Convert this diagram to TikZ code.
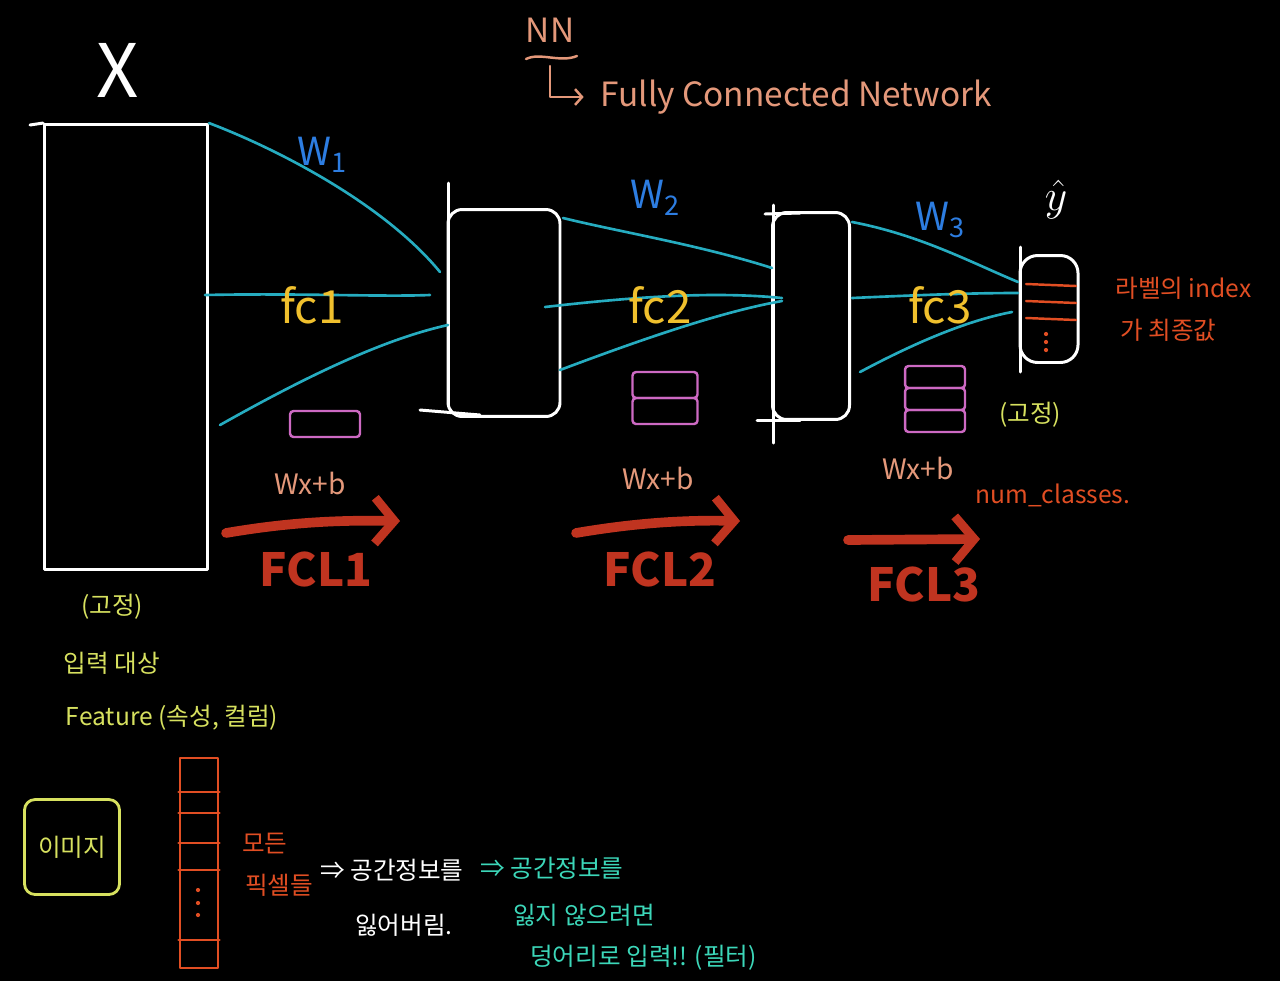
\documentclass[tikz,border=0pt]{standalone}
\usepackage{fontspec}
\newfontfamily\kr{Noto Sans CJK KR}
\usetikzlibrary{arrows.meta}

\definecolor{wirec}{RGB}{38,172,192}
\definecolor{wc}{RGB}{45,125,225}
\definecolor{fcc}{RGB}{240,192,45}
\definecolor{biasc}{RGB}{205,105,195}
\definecolor{peach}{RGB}{228,152,122}
\definecolor{flowc}{RGB}{192,52,32}
\definecolor{notec}{RGB}{225,78,35}
\definecolor{limec}{RGB}{215,225,95}
\definecolor{aquac}{RGB}{60,215,185}

\tikzset{
  layer/.style={draw=white, line width=1.7pt},
  wire/.style={draw=wirec, line width=1.5pt},
  bias/.style={draw=biasc, line width=1.4pt, inner sep=0pt, rounded corners=2pt},
  flow/.style={draw=flowc, line width=5.5pt,
    -{Straight Barb[length=11pt, width=26pt, line width=5pt]}},
  wlab/.style={text=wc, font=\kr\fontsize{22}{24}\selectfont},
  fclab/.style={text=fcc, font=\kr\fontsize{26}{28}\selectfont},
  eqlab/.style={text=peach, font=\kr\fontsize{16}{18}\selectfont},
  fcl/.style={text=flowc, font=\kr\bfseries\fontsize{26}{28}\selectfont},
  note/.style={inner sep=0pt, font=\kr\fontsize{14}{17}\selectfont}
}

\begin{document}
\begin{tikzpicture}[x=0.02cm, y=-0.02cm, line cap=round, line join=round]
  \fill[black] (0,0) rectangle (1280,981);

  % layers
  \node[layer, minimum width=3.26cm, minimum height=8.9cm] (in) at (126,347) {};
  \draw[layer] (30,125) -- (in.north west);
  \node[layer, rounded corners=8pt, minimum width=2.24cm, minimum height=4.14cm] (h1) at (504,313) {};
  \draw[layer] (448,183) -- (448,405);
  \draw[layer] (420,410) -- (480,415);
  \node[layer, rounded corners=8pt, minimum width=1.54cm, minimum height=4.14cm] (h2) at (811,316) {};
  \draw[layer] (773,205) -- (773,443);
  \draw[layer] (757,420) -- (800,420);
  \draw[layer] (765,214) -- (800,213);
  \node[layer, rounded corners=10pt, minimum width=1.16cm, minimum height=2.14cm] (out) at (1049,309) {};
  \draw[layer] (1020,247) -- (1020,372);
  \foreach \y in {284, 301, 318}
    \draw[draw=notec, line width=1.4pt] (1026,\y) -- (1076,\y+2);
  \foreach \y in {334, 342, 350}
    \fill[notec] (1046,\y) circle (1.2pt);

  % weights
  \coordinate (a1) at (440,272);
  \coordinate (a2) at (205,295);
  \coordinate (a3) at (430,295);
  \coordinate (a4) at (220,425);
  \coordinate (a5) at (448,325);
  \draw[wire] (in.north east) .. controls (280,150) and (385,205) .. (a1);
  \draw[wire] (a2) .. controls (300,293) and (380,297) .. (a3);
  \draw[wire] (a4) .. controls (300,380) and (380,340) .. (a5);
  \coordinate (b1) at (563,218);
  \coordinate (b2) at (772,268);
  \coordinate (b3) at (545,307);
  \coordinate (b4) at (782,298);
  \coordinate (b5) at (560,370);
  \coordinate (b6) at (782,301);
  \draw[wire] (b1) .. controls (620,232) and (700,245) .. (b2);
  \draw[wire] (b3) .. controls (650,295) and (720,292) .. (b4);
  \draw[wire] (b5) .. controls (640,340) and (720,312) .. (b6);
  \coordinate (c1) at (852,222);
  \coordinate (c2) at (1018,282);
  \coordinate (c3) at (852,298);
  \coordinate (c4) at (1018,293);
  \coordinate (c5) at (860,372);
  \coordinate (c6) at (1012,312);
  \draw[wire] (c1) .. controls (920,235) and (970,262) .. (c2);
  \draw[wire] (c3) .. controls (920,295) and (970,293) .. (c4);
  \draw[wire] (c5) .. controls (920,340) and (970,320) .. (c6);

  \node[wlab] (w1) at (322,155) {W\textsubscript{1}};
  \node[wlab] (w2) at (655,198) {W\textsubscript{2}};
  \node[wlab] (w3) at (940,220) {W\textsubscript{3}};
  \node[fclab] (fc1) at (312,305) {fc1};
  \node[fclab] (fc2) at (660,305) {fc2};
  \node[fclab] (fc3) at (940,305) {fc3};

  % biases
  \node[bias, minimum width=1.4cm, minimum height=0.52cm] (bias1) at (325,424) {};
  \foreach \y [count=\i] in {385, 411}
    \node[bias, minimum width=1.3cm, minimum height=0.52cm] (bias2\i) at (665,\y) {};
  \foreach \y [count=\i] in {377, 399, 421}
    \node[bias, minimum width=1.2cm, minimum height=0.44cm] (bias3\i) at (935,\y) {};

  \node[eqlab] (eq1) at (310,483) {Wx+b};
  \node[eqlab] (eq2) at (658,478) {Wx+b};
  \node[eqlab] (eq3) at (918,468) {Wx+b};

  % flow arrows
  \coordinate (f1) at (226,533);
  \coordinate (f2) at (400,521);
  \coordinate (f3) at (576,533);
  \coordinate (f4) at (740,521);
  \coordinate (f5) at (848,540);
  \coordinate (f6) at (980,539);
  \draw[flow] (f1) .. controls (290,522) and (340,520) .. (f2);
  \draw[flow] (f3) .. controls (640,522) and (690,520) .. (f4);
  \draw[flow] (f5) -- (f6);
  \node[fcl] (fcl1) at (316,569) {FCL1};
  \node[fcl] (fcl2) at (660,569) {FCL2};
  \node[fcl] (fcl3) at (924,584) {FCL3};

  % titles
  \node[text=white, font=\kr\fontsize{42}{44}\selectfont] (xlab) at (118,70) {X};
  \node[text=white, font=\fontsize{30}{32}\selectfont] (ylab) at (1056,200) {$\hat{y}$};
  \node[text=peach, font=\kr\fontsize{19}{21}\selectfont] (nn) at (550,30) {NN};
  \node[text=peach, font=\kr\fontsize{19}{21}\selectfont] (fcn) at (796,97) {Fully Connected Network};
  \draw[draw=peach, line width=1.4pt] (526,59) .. controls (540,52) and (560,63) .. (577,56);
  \draw[draw=peach, line width=1.4pt, shorten <=10pt, shorten >=6pt,
    -{Straight Barb[length=4pt, width=9pt]}] (nn.south) |- (fcn.west);

  % notes
  \node[note, text=notec, anchor=west] (lbl1) at (1115,288) {라벨의 index};
  \node[note, text=notec, anchor=west] (lbl2) at (1120,330) {가 최종값};
  \node[note, text=limec] (fix2) at (1030,415) {(고정)};
  \node[note, text=notec, anchor=west] (ncls) at (975,495) {num\_classes.};
  \node[note, text=limec] (fix1) at (112,607) {(고정)};
  \node[note, text=limec] (inp) at (112,663) {입력 대상};
  \node[note, text=limec] (feat) at (172,718) {Feature (속성, 컬럼)};

  % image vs pixels
  \node[draw=limec, line width=1.6pt, rounded corners=6pt, minimum width=1.9cm,
    minimum height=1.9cm, note, text=limec] (img) at (72,847) {이미지};
  \node[draw=notec, line width=1.6pt, minimum width=0.76cm, minimum height=4.2cm] (pix) at (199,863) {};
  \foreach \y in {792, 813, 843, 870, 940}
    \draw[draw=notec, line width=1.4pt] (pix.west |- 0,\y) -- (pix.east |- 0,\y);
  \foreach \y in {890, 903, 915}
    \fill[notec] (198,\y) circle (1.2pt);
  \node[note, text=notec, anchor=west] (all1) at (242,843) {모든};
  \node[note, text=notec, anchor=west] (all2) at (245,885) {픽셀들};
  \node[note, text=white, anchor=west] (loss1) at (320,870) {⇒ 공간정보를};
  \node[note, text=white, anchor=west] (loss2) at (355,925) {잃어버림.};
  \node[note, text=aquac, anchor=west] (keep1) at (480,868) {⇒ 공간정보를};
  \node[note, text=aquac, anchor=west] (keep2) at (513,915) {잃지 않으려면};
  \node[note, text=aquac, anchor=west] (keep3) at (530,958) {덩어리로 입력!! (필터)};
\end{tikzpicture}
\end{document}
